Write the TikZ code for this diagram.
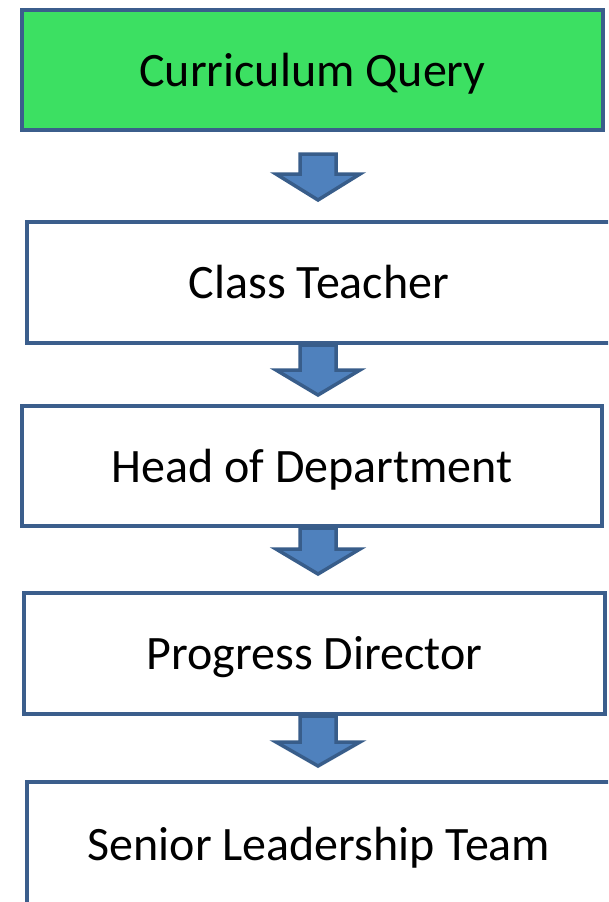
\documentclass[tikz,border=0pt]{standalone}
\usepackage{fontspec}
\setmainfont{Carlito}
\definecolor{boxline}{HTML}{3B5E8C}
\definecolor{arrfill}{HTML}{4F81BD}
\definecolor{arrline}{HTML}{385D8A}
\definecolor{qgreen}{HTML}{3CE062}
\tikzset{
  stagebox/.style={draw=boxline, line width=4pt, fill=white, rectangle, inner sep=0pt,
    font=\fontsize{48}{58}\selectfont, text=black, text height=34pt, text depth=2pt},
  blockarr/.style={draw=arrline, fill=arrfill, line width=3.5pt, line join=miter}
}
% #1 stem top y, #2 head top y, #3 tip y (x centre 318)
\newcommand{\mydownarrow}[3]{%
  \draw[blockarr] (300,#1) -- (336,#1) -- (336,#2) -- (360,#2) -- (318,#3)
    -- (276,#2) -- (300,#2) -- cycle;}
\begin{document}
\begin{tikzpicture}[x=1pt,y=-1pt]
\useasboundingbox (0,0) rectangle (608,902);
\clip (0,0) rectangle (608,902);
\fill[white] (0,0) rectangle (608,902);
\node[stagebox, fill=qgreen, minimum width=581pt, minimum height=120pt] (q) at (312.5,70) {Curriculum Query};
\node[stagebox, minimum width=584pt, minimum height=121pt] (ct) at (319,282.5) {Class Teacher};
\node[stagebox, minimum width=580pt, minimum height=120pt] (hod) at (312,466) {Head of Department};
\node[stagebox, minimum width=581pt, minimum height=121pt] (pd) at (314.5,653.5) {Progress Director};
\node[stagebox, minimum width=584pt, minimum height=124pt] (slt) at (319,844) {Senior Leadership Team};
\mydownarrow{154}{174}{200}
\mydownarrow{345}{370}{395}
\mydownarrow{528}{549}{574}
\mydownarrow{716}{742}{766}
\end{tikzpicture}
\end{document}
